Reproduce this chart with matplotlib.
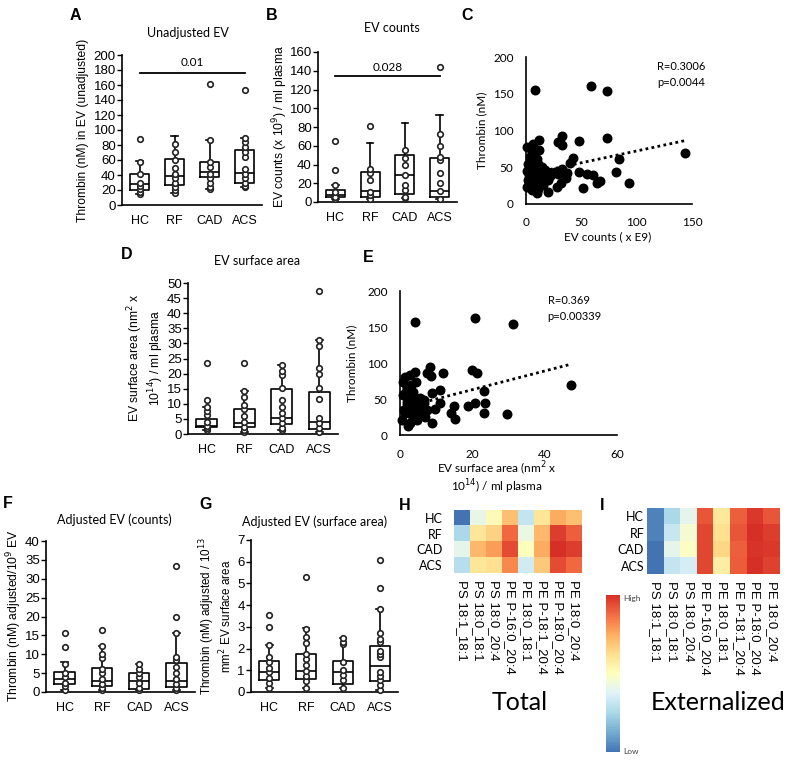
import numpy as np
import matplotlib.pyplot as plt
from matplotlib.colors import LinearSegmentedColormap
from matplotlib.cm import ScalarMappable

plt.rcParams['font.family'] = ['Liberation Sans', 'DejaVu Sans']
calib = ['Lato', 'DejaVu Sans']

W, H = 788, 761
fig = plt.figure(figsize=(W / 100, H / 100), dpi=100)

groups = ['HC', 'RF', 'CAD', 'ACS']

# A - unadjusted thrombin
a_pts = [[15, 18, 21, 25, 30, 42, 58],
         [16, 20, 24, 30, 36, 42, 49, 60, 71, 81],
         [21, 24, 29, 36, 42, 51, 58, 87],
         [24, 25, 29, 36, 42, 48, 64, 71, 78, 84, 89]]
a_out = [[88], [], [162], [154]]
a_q1 = [20, 27, 37, 30]
a_med = [27.5, 39, 44, 43]
a_q3 = [41, 62, 57, 74]
a_hi = [58.7, 92, 87, 90]

# B - EV counts
b_pts = [[3, 5.7, 11, 18],
         [3, 7.5, 11, 23.5, 30.6, 35],
         [4, 5.7, 12.8, 18, 29, 39.5, 47, 55],
         [3, 12, 20, 30.6, 45, 48, 60, 73]]
b_out = [[34, 65], [81], [], [144]]
b_q1 = [5, 5.7, 9, 5]
b_med = [7.5, 11.7, 29, 12]
b_q3 = [12.8, 32, 50, 46.6]
b_hi = [18, 63, 84, 92.4]

# D - EV surface area
d_pts = [[1.3, 1.9, 2.8, 4, 6.3, 7.7, 9],
         [0.6, 1.3, 2.4, 4.1, 6, 8.2, 9.6, 12.1, 14.2],
         [1.3, 2.1, 3.5, 5.2, 7, 9, 11.3, 15.1, 19.5, 21, 22.8],
         [0.8, 1.9, 3.5, 5.2, 11.5, 15.1, 20, 21.7, 29, 31]]
d_out = [[11.3, 23.4], [23.5], [], [47.3]]
d_q1 = [2.2, 2.2, 3.3, 1.5]
d_med = [2.6, 3.75, 5.4, 4.1]
d_q3 = [4.9, 8.4, 15, 14]
d_hi = [9, 14.2, 22.8, 31]

# F - adjusted (counts)
f_pts = [[0.5, 1.5, 2.5, 4, 5, 7.5],
         [0.5, 1, 2, 3.5, 5, 6, 9, 10, 12.3],
         [0.5, 1, 2.5, 4, 5, 6, 7.5],
         [0.5, 1, 2, 3.5, 5, 6.5, 8.5, 9.3, 15.6]]
f_out = [[11.9, 15.6], [16.3], [], [19.8, 33.4]]
f_q1 = [2, 1.5, 0.8, 1.4]
f_med = [3.5, 3, 2.8, 2.9]
f_q3 = [5.2, 6.3, 5.1, 7.6]
f_hi = [8, 12.3, 7.5, 15.6]

# G - adjusted (surface area)
g_pts = [[0.2, 0.4, 0.65, 0.9, 1.1, 1.4, 1.6, 2.15],
         [0.2, 0.5, 0.75, 0.95, 1.25, 1.5, 1.75, 2.25, 2.55, 2.9],
         [0.2, 0.55, 0.8, 1.0, 1.4, 2.2, 2.3, 2.5],
         [0.1, 0.3, 0.55, 0.75, 0.9, 1.6, 1.75, 1.9, 2.3, 2.45, 2.7, 3.8]]
g_out = [[3.0, 3.55], [5.3], [], [4.8, 6.1]]
g_q1 = [0.55, 0.6, 0.35, 0.5]
g_med = [0.9, 0.95, 0.9, 1.2]
g_q3 = [1.45, 1.75, 1.45, 2.1]
g_hi = [2.15, 2.95, 2.5, 3.8]

# C - thrombin vs EV counts
c_x = [8.1, 58.9, 73.6, 73, 48.3, 32.3, 29.3, 32.3, 11.8, 6.6, 1.2, 12, 5, 3.6, 9.6, 6.6,
       42.9, 39.8, 83.6, 144, 48.3, 55, 60.4, 81.2, 92.7, 64.6, 67, 51.3, 32.3, 29.3, 37.4,
       35.9, 31.4, 27.8, 24.7, 17.2, 20.2, 15.7, 20.2, 9.6, 5, 0.6, 2, 5, 9.6, 12.6, 8.1,
       3.6, 14.2, 11, 3, 6, 8, 4, 10, 7, 2, 12, 6, 9, 14, 18, 22, 26, 3, 1, 5, 11]
c_y = [155.6, 160.6, 153.4, 90, 85.5, 92.3, 84.6, 80, 87, 82, 78, 74, 71, 64, 60.6, 53,
       62, 56, 60.6, 69.7, 44, 40.7, 39.4, 43.4, 29, 29, 31.2, 22.2, 47, 40.7, 41.6,
       34.8, 29, 23.5, 42.5, 46, 32.6, 25.8, 16.7, 14.5, 19, 23.5, 32.6, 41.6, 46, 37, 30,
       50.7, 50.7, 21, 28, 35, 44, 48, 38, 25, 55, 30, 58, 20, 42, 35, 38, 44, 40, 45, 62, 55]
c_trend_x = [0, 143]
c_trend_y = [40, 86]

# E - thrombin vs EV surface area
e_x = [4.2, 20.6, 31.2, 47.3, 19.9, 21.4, 23.1, 23.5, 23.3, 20.8,
       18.9, 29.5, 14.8, 15.2, 14, 12, 11.1, 11.1, 8.8, 8.8,
       8.3, 8.6, 7.4, 9.7, 4.2, 4.4, 2.8, 1.4, 0.9, 1.8,
       3.7, 0.9, 6.5, 6, 5.1, 4.6, 2.8, 2.3, 0.5, 1.4,
       2.8, 3.7, 1.8, 5.5, 4.6, 6.9, 3.2, 7.4, 1.0, 2,
       3, 4, 5, 2.5, 3.5, 1.5, 4.5, 6.5, 2, 3]
e_y = [157, 162.6, 153.8, 69.3, 90, 86.4, 61, 43.9, 31, 44.8,
       40.2, 29, 40.2, 22.2, 30, 86.4, 62.4, 43.9, 57.7, 16.2,
       94.7, 81.8, 85.5, 35.6, 87.8, 73.9, 83, 80.8, 73.9, 67,
       60, 55.4, 43.9, 30, 37, 20.8, 16.2, 12.5, 20.8, 30,
       39.3, 48.5, 46.2, 50.8, 27.7, 25.4, 27.7, 34.6, 35, 42,
       52, 38, 45, 33, 25, 58, 31, 48, 65, 70]
e_trend_x = [0, 47]
e_trend_y = [37, 98]

# H / I heatmaps
lipids = ['PS 18:1_18:1', 'PS 18:0_18:1', 'PS 18:0_20:4', 'PE P-16:0_20:4',
          'PE 18:0_18:1', 'PE P-18:1_20:4', 'PE P-18:0_20:4', 'PE 18:0_20:4']
total_vals = [[0.00, 0.41, 0.52, 0.70, 0.31, 0.60, 0.75, 0.70],
              [0.25, 0.60, 0.66, 0.88, 0.42, 0.72, 0.97, 0.90],
              [0.40, 0.72, 0.78, 0.94, 0.50, 0.75, 1.00, 0.97],
              [0.28, 0.60, 0.62, 0.82, 0.34, 0.68, 0.94, 0.88]]
ext_vals = [[0.03, 0.25, 0.40, 0.92, 0.59, 0.90, 0.98, 0.92],
            [0.03, 0.32, 0.46, 0.95, 0.62, 0.92, 1.00, 0.97],
            [0.00, 0.40, 0.49, 0.95, 0.65, 0.90, 0.99, 0.98],
            [0.00, 0.31, 0.35, 0.95, 0.57, 0.91, 1.00, 0.96]]

cmap = LinearSegmentedColormap.from_list('rdylbu9', plt.cm.RdYlBu_r(np.linspace(0.1, 0.9, 256)))


def px_axes(l, t, r, b):
    return fig.add_axes([l / W, 1 - b / H, (r - l) / W, (b - t) / H])


def ftxt(x, y, s, **kw):
    kw.setdefault('ha', 'center')
    kw.setdefault('va', 'center')
    fig.text(x / W, 1 - y / H, s, **kw)


def box_panel(rect, pts, out, q1, med, q3, hi, ymax, ystep):
    ax = px_axes(*rect)
    stats = []
    for i in range(4):
        stats.append(dict(med=med[i], q1=q1[i], q3=q3[i], whislo=min(pts[i]),
                          whishi=hi[i], fliers=[]))
    lp = dict(color='black', lw=1.2)
    ax.bxp(stats, positions=[1, 2, 3, 4], widths=0.55, showfliers=False, capwidths=0.18,
           boxprops=lp, medianprops=lp, whiskerprops=lp, capprops=lp)
    for i in range(4):
        vals = pts[i] + out[i]
        ax.plot([i + 1] * len(vals), vals, 'o', ms=4, mfc='white', mec='#222222',
                mew=1.2, zorder=3, clip_on=False)
    ax.set_xlim(0.5, 4.5)
    ax.set_ylim(0, ymax)
    ax.set_yticks(np.arange(0, ymax + ystep / 2, ystep))
    ax.set_xticks([1, 2, 3, 4])
    ax.set_xticklabels(groups, fontsize=9)
    ax.tick_params(axis='x', length=0, pad=7)
    ax.tick_params(axis='y', length=3.5, width=1, labelsize=9.5, pad=1)
    for s in ['top', 'right']:
        ax.spines[s].set_visible(False)
    for s in ['left', 'bottom']:
        ax.spines[s].set_linewidth(1.2)
    return ax


def scatter_panel(rect, x, y, tx, ty, xmax, xstep, ypad, xpad):
    ax = px_axes(*rect)
    ax.scatter(x, y, s=38, color='black', zorder=3, clip_on=False)
    ax.plot(tx, ty, color='black', lw=2, ls=(0, (1, 1.2)), zorder=2)
    ax.set_xlim(0, xmax)
    ax.set_ylim(0, 200)
    ax.set_xticks(np.arange(0, xmax + 1, xstep))
    ax.set_yticks(np.arange(0, 201, 50))
    ax.tick_params(axis='y', length=0, pad=ypad)
    ax.tick_params(axis='x', length=0, pad=xpad)
    for lbl in ax.get_xticklabels() + ax.get_yticklabels():
        lbl.set_fontfamily(calib)
        lbl.set_fontsize(8.5)
    for s in ['top', 'right']:
        ax.spines[s].set_visible(False)
    for s in ['left', 'bottom']:
        ax.spines[s].set_linewidth(1.2)
    return ax


# boxplot panels
axA = box_panel((122, 55, 262, 205), a_pts, a_out, a_q1, a_med, a_q3, a_hi, 200, 20)
axA.plot([1, 4], [176, 176], color='black', lw=1.3)
axA.text(2.5, 182, '0.01', ha='center', va='bottom', fontsize=8.5, family=calib)

axB = box_panel((318, 52, 457, 202), b_pts, b_out, b_q1, b_med, b_q3, b_hi, 160, 20)
axB.plot([1, 4], [134, 134], color='black', lw=1.3)
axB.text(2.5, 138, '0.028', ha='center', va='bottom', fontsize=8.5, family=calib)

axD = box_panel((188, 283, 338, 434), d_pts, d_out, d_q1, d_med, d_q3, d_hi, 50, 5)
axF = box_panel((46, 541, 195, 692), f_pts, f_out, f_q1, f_med, f_q3, f_hi, 40, 5)
axG = box_panel((251, 540, 398, 692), g_pts, g_out, g_q1, g_med, g_q3, g_hi, 7, 1)

# scatter panels
axC = scatter_panel((526, 57, 692, 204), c_x, c_y, c_trend_x, c_trend_y, 150, 50, 9, 9)
axC.text(0.79, 0.97, 'R=0.3006\np=0.0044', transform=axC.transAxes, fontsize=8,
         family=calib, va='top', ha='left', linespacing=1.5)
axE = scatter_panel((400, 291, 617, 435), e_x, e_y, e_trend_x, e_trend_y, 60, 20, 9, 10)
axE.text(0.68, 0.97, 'R=0.369\np=0.00339', transform=axE.transAxes, fontsize=8,
         family=calib, va='top', ha='left', linespacing=1.5)

# heatmaps
for rect, vals, pad in [((454, 510, 582, 573), total_vals, 8),
                        ((647, 508, 780, 574), ext_vals, 2)]:
    ax = px_axes(*rect)
    ax.imshow(vals, cmap=cmap, vmin=0, vmax=1, aspect='auto')
    ax.set_xticks(range(len(lipids)))
    ax.set_xticklabels(lipids, rotation=270, fontsize=9.5, ha='center', va='top')
    ax.set_yticks(range(len(groups)))
    ax.set_yticklabels(groups, fontsize=9, family=calib)
    ax.tick_params(axis='x', length=0, pad=5)
    ax.tick_params(axis='y', length=0, pad=pad)
    for s in ax.spines.values():
        s.set_visible(False)

cax = px_axes(606, 595, 620, 752)
cb = fig.colorbar(ScalarMappable(cmap=cmap), cax=cax)
cb.set_ticks([])
cb.outline.set_visible(False)
ftxt(623, 599, 'High', ha='left', fontsize=6, family=calib, color='#444444')
ftxt(623, 752, 'Low', ha='left', fontsize=6, family=calib, color='#444444')

ftxt(520, 703, 'Total', fontsize=18, family=calib)
ftxt(718, 703, 'Externalized', fontsize=18, family=calib)

# titles
ftxt(188, 33, 'Unadjusted EV', fontsize=9, family=calib)
ftxt(392, 28, 'EV counts', fontsize=9, family=calib)
ftxt(257, 261, 'EV surface area', fontsize=9, family=calib)
ftxt(114, 520, 'Adjusted EV (counts)', fontsize=9, family=calib)
ftxt(315, 522, 'Adjusted EV (surface area)', fontsize=9, family=calib)

# y labels
ftxt(83, 130, 'Thrombin (nM) in EV (unadjusted)', rotation=90, fontsize=8.7)
ftxt(280, 127, 'EV counts (x 10$^9$) / ml plasma', rotation=90, fontsize=8.7)
ftxt(146, 358, 'EV surface area (nm$^2$ x\n10$^{14}$) / ml plasma', rotation=90,
     fontsize=8.7, linespacing=1.1)
ftxt(14, 616, 'Thrombin (nM) adjusted/10$^9$ EV', rotation=90, fontsize=8.7)
ftxt(216, 616, 'Thrombin (nM) adjusted / 10$^{13}$\nmm$^2$ EV surface area', rotation=90,
     fontsize=8.4, linespacing=1.05)
ftxt(482, 130, 'Thrombin (nM)', rotation=90, fontsize=8.5, family=calib)
ftxt(352, 363, 'Thrombin (nM)', rotation=90, fontsize=8.5, family=calib)

# x labels of scatters
ftxt(608, 237, 'EV counts ( x E9)', fontsize=8.5, family=calib)
ftxt(497, 478, 'EV surface area (nm$^2$ x\n10$^{14}$) / ml plasma', fontsize=8.5,
     family=calib, linespacing=0.95)

# panel letters
for x, y, s in [(75, 15, 'A'), (272, 15, 'B'), (467, 16, 'C'), (127, 255, 'D'),
                (368, 257, 'E'), (8, 503, 'F'), (206, 504, 'G'), (405, 505, 'H'),
                (602, 505, 'I')]:
    ftxt(x, y, s, fontsize=11.5, fontweight='bold')

fig.savefig('out.png', dpi=100)
